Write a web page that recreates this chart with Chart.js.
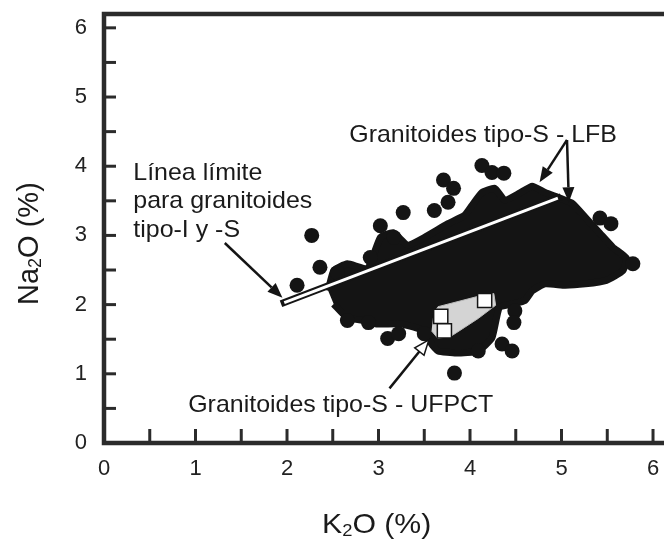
<!DOCTYPE html>
<html>
<head>
<meta charset="utf-8">
<script src="https://cdn.jsdelivr.net/npm/chart.js@4/dist/chart.umd.min.js"></script>
<style>
  html, body { margin:0; padding:0; background:#fff; }
  #wrap { width:664px; height:541px; }
</style>
</head>
<body>
<div id="wrap"><canvas id="c"></canvas></div>
<script>
// axis ticks (K2O %, Na2O %), marks every 0.5, labels on whole numbers
const xTickValues = [0, 0.5, 1, 1.5, 2, 2.5, 3, 3.5, 4, 4.5, 5, 5.5, 6];
const yTickValues = [0, 0.5, 1, 1.5, 2, 2.5, 3, 3.5, 4, 4.5, 5, 5.5, 6];
const xTickLabels = [0, 1, 2, 3, 4, 5, 6];
const yTickLabels = [0, 1, 2, 3, 4, 5, 6];

// LFB S-type granitoid field, outline of the dense cloud
const lfbField = [
  [2.45,2.20],[2.51,2.49],[2.66,2.59],[2.88,2.52],[3.02,2.97],[3.16,3.04],[3.32,2.86],
  [3.50,2.97],[3.76,3.17],[3.94,3.29],[4.02,3.43],[4.13,3.62],[4.27,3.68],[4.38,3.51],
  [4.54,3.61],[4.68,3.71],[4.82,3.62],[4.98,3.54],[5.12,3.46],[5.26,3.26],[5.42,3.03],
  [5.56,2.83],[5.71,2.67],[5.67,2.49],[5.49,2.35],[5.26,2.30],[5.04,2.28],[4.82,2.30],
  [4.68,2.20],[4.60,2.06],[4.46,2.01],[4.32,1.96],[4.24,1.52],[4.09,1.33],[3.85,1.30],
  [3.65,1.33],[3.58,1.43],[3.50,1.62],[3.25,1.72],[2.99,1.72],[2.84,1.77],[2.66,1.81],
  [2.51,2.01]
];
// single LFB samples outside / at the edge of the cloud
const lfbDots = [
  [2.27,3.00],[2.36,2.54],[2.11,2.28],[2.55,2.46],[2.91,2.68],[3.02,3.14],[3.17,2.97],
  [3.27,3.33],[3.61,3.36],[3.71,3.80],[3.82,3.68],[3.76,3.48],[4.13,4.01],[4.24,3.91],
  [4.37,3.90],[5.42,3.25],[5.54,3.17],[5.78,2.59],[2.66,1.77],[2.89,1.74],[3.10,1.51],
  [3.22,1.58],[3.50,1.58],[3.83,1.01],[4.09,1.33],[4.35,1.43],[4.46,1.33],[4.49,1.91],
  [4.48,1.74]
];
// UFPCT field and samples
const ufpctField = [
  [3.60,1.87],[3.65,1.97],[4.09,2.12],[4.26,2.16],[4.28,1.99],[4.09,1.80],[3.94,1.67],
  [3.80,1.55],[3.65,1.51],[3.58,1.62]
];
const ufpctSamples = [[3.68,1.83],[3.72,1.62],[4.16,2.06]];
// I/S boundary
const limitLine = [[1.97,2.03],[4.96,3.54]];

// labels and arrows (data units)
const notes = [
  { text:'Línea límite', at:[0.32,3.90] },
  { text:'para granitoides', at:[0.32,3.49] },
  { text:'tipo-I y -S', at:[0.32,3.08] },
  { text:'Granitoides tipo-S - LFB', at:[2.68,4.45] },
  { text:'Granitoides tipo-S - UFPCT', at:[0.92,0.55] }
];
const arrows = [
  { from:[1.32,2.89], to:[1.95,2.10], hollow:false },
  { from:[5.06,4.38], to:[4.76,3.77], hollow:false },
  { from:[5.06,4.38], to:[5.08,3.48], hollow:false },
  { from:[3.12,0.79], to:[3.55,1.49], hollow:true }
];

const pts = arr => arr.map(p => ({ x:p[0], y:p[1] }));
const FONT = '"Liberation Sans", Arial, Helvetica, sans-serif';
const INK = '#141414';
const isInt = v => Math.abs(v - Math.round(v)) < 1e-6;

function stretchText(ctx, str, X, Y, sx){
  ctx.save(); ctx.translate(X, Y); ctx.scale(sx, 1); ctx.fillText(str, 0, 0); ctx.restore();
}

function subTitle(ctx, parts, size){
  // parts: [text, isSub]
  let cx = 0;
  parts.forEach(([t, sub]) => {
    ctx.font = (sub ? Math.round(size*0.62) : size) + 'px ' + FONT;
    ctx.fillText(t, cx, sub ? 3 : 0);
    cx += ctx.measureText(t).width;
  });
}

const decor = {
  id:'decor',
  afterDraw(chart){
    const { ctx, chartArea:a, scales:{ x, y } } = chart;
    const P = p => [x.getPixelForValue(p[0]), y.getPixelForValue(p[1])];
    ctx.save();

    // frame (no right side)
    ctx.strokeStyle = '#2b2b2b'; ctx.lineWidth = 4.5; ctx.lineCap = 'square';
    ctx.beginPath();
    ctx.moveTo(chart.width + 5, a.top); ctx.lineTo(a.left, a.top);
    ctx.lineTo(a.left, a.bottom); ctx.lineTo(chart.width + 5, a.bottom);
    ctx.stroke();

    // inward ticks every 0.5
    ctx.lineWidth = 3; ctx.lineCap = 'butt';
    xTickValues.forEach(v => {
      if (v <= 0) return;
      const X = x.getPixelForValue(v);
      ctx.beginPath(); ctx.moveTo(X, a.bottom); ctx.lineTo(X, a.bottom - 14); ctx.stroke();
    });
    yTickValues.forEach(v => {
      if (v <= 0) return;
      const Y = y.getPixelForValue(v);
      ctx.beginPath(); ctx.moveTo(a.left, Y); ctx.lineTo(a.left + 12, Y); ctx.stroke();
    });

    // arrows
    arrows.forEach(ar => {
      const [x0, y0] = P(ar.from), [x1, y1] = P(ar.to);
      const ang = Math.atan2(y1 - y0, x1 - x0), L = 15, W = 6;
      const bx = x1 - L*Math.cos(ang), by = y1 - L*Math.sin(ang);
      ctx.strokeStyle = INK; ctx.lineWidth = 2.5;
      ctx.beginPath(); ctx.moveTo(x0, y0); ctx.lineTo(bx, by); ctx.stroke();
      ctx.beginPath();
      ctx.moveTo(x1, y1);
      ctx.lineTo(bx + W*Math.sin(ang), by - W*Math.cos(ang));
      ctx.lineTo(bx - W*Math.sin(ang), by + W*Math.cos(ang));
      ctx.closePath();
      if (ar.hollow){ ctx.fillStyle = '#fff'; ctx.fill(); ctx.lineWidth = 1.5; ctx.stroke(); }
      else { ctx.fillStyle = INK; ctx.fill(); }
    });

    // notes
    ctx.fillStyle = '#1a1a1a'; ctx.font = '24px ' + FONT; ctx.textBaseline = 'middle'; ctx.textAlign = 'left';
    notes.forEach(n => { const [X, Y] = P(n.at); stretchText(ctx, n.text, X, Y, 1.04); });

    // axis titles with subscripts
    ctx.textBaseline = 'alphabetic';
    ctx.save(); ctx.translate(322, 533); ctx.scale(1.08, 1);
    subTitle(ctx, [['K', false], ['2', true], ['O (%)', false]], 28);
    ctx.restore();
    ctx.save(); ctx.translate(38, 305); ctx.rotate(-Math.PI/2);
    subTitle(ctx, [['Na', false], ['2', true], ['O (%)', false]], 29);
    ctx.restore();

    ctx.restore();
  }
};

const tickFont = { family:FONT, size:22 };

new Chart(document.getElementById('c'), {
  type:'scatter',
  data:{
    datasets:[
      { type:'scatter', data:pts(ufpctSamples), pointStyle:'rect', pointRadius:10,
        backgroundColor:'#fff', borderColor:INK, borderWidth:1.5, order:0 },
      { type:'line', data:pts(ufpctField), fill:'shape', backgroundColor:'#d4d4d4',
        borderColor:'#bdbdbd', borderWidth:1, pointRadius:0, tension:0, order:1 },
      { type:'line', data:pts(limitLine), borderColor:'#fff', borderWidth:3,
        borderCapStyle:'butt', pointRadius:0, fill:false, order:2 },
      { type:'line', data:pts(limitLine), borderColor:INK, borderWidth:7,
        borderCapStyle:'square', pointRadius:0, fill:false, order:3 },
      { type:'scatter', data:pts(lfbDots), pointRadius:7.5, backgroundColor:INK,
        borderWidth:0, order:4 },
      { type:'line', data:pts(lfbField), fill:'shape', backgroundColor:INK, borderColor:INK,
        borderWidth:7, borderJoinStyle:'round', pointRadius:0, tension:0.15, order:5 }
    ]
  },
  options:{
    responsive:true, maintainAspectRatio:false, animation:false, events:[],
    layout:{ autoPadding:false, padding:{ top:14, right:0, left:0, bottom:0 } },
    plugins:{ legend:{ display:false }, tooltip:{ enabled:false } },
    scales:{
      x:{ type:'linear', min:0, max:6.12,
        grid:{ display:false, drawTicks:false }, border:{ display:false },
        afterBuildTicks(s){ s.ticks = xTickValues.map(v => ({ value:v })); },
        ticks:{ autoSkip:false, maxRotation:0, padding:13, color:'#222', font:tickFont,
          callback:v => (isInt(v) && xTickLabels.includes(Math.round(v))) ? String(Math.round(v)) : '' },
        afterFit(s){ s.height = 98; s.paddingLeft = 0; s.paddingRight = 0; } },
      y:{ type:'linear', min:0, max:6.2,
        grid:{ display:false, drawTicks:false }, border:{ display:false },
        afterBuildTicks(s){ s.ticks = yTickValues.map(v => ({ value:v })); },
        ticks:{ autoSkip:false, padding:17, color:'#222', font:tickFont,
          callback:v => (isInt(v) && yTickLabels.includes(Math.round(v))) ? String(Math.round(v)) : '' },
        afterFit(s){ s.width = 104; s.paddingTop = 0; s.paddingBottom = 0; } }
    }
  },
  plugins:[decor]
});
</script>
</body>
</html>
